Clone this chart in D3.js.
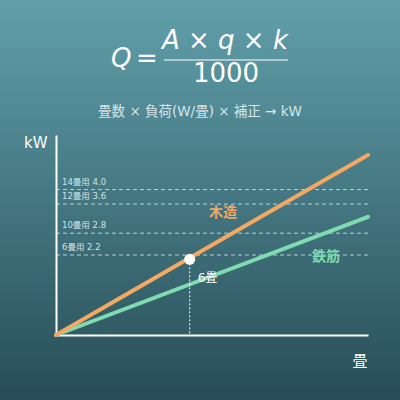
<!DOCTYPE html>
<html>
<head>
<meta charset="utf-8">
<script src="https://cdn.jsdelivr.net/npm/d3@7"></script>
<style>
  html, body { margin: 0; padding: 0; background: #2c5661; }
  svg { display: block; font-family: "DejaVu Sans", "Noto Sans CJK JP", sans-serif; }
</style>
</head>
<body>
<svg width="400" height="400"></svg>
<script>
// 畳数 and kW for each construction type
const tatami = [0, 14];
const woodKw = [0, 4.95];
const steelKw = [0, 3.25];

// reference capacity lines
const refLabels = ["14畳用 4.0", "12畳用 3.6", "10畳用 2.8", "6畳用 2.2"];
const refValues = [4.0, 3.6, 2.8, 2.2];

// highlighted point
const markTatami = 6;
const markKw = 2.08;

const svg = d3.select("svg");
const width = 400, height = 400;

// background gradient
const defs = svg.append("defs");
const grad = defs.append("linearGradient")
  .attr("id", "bg").attr("x1", 0).attr("y1", 0).attr("x2", 0).attr("y2", 1);
grad.append("stop").attr("offset", "0%").attr("stop-color", "#61a0ab");
grad.append("stop").attr("offset", "100%").attr("stop-color", "#274d57");
svg.append("rect").attr("width", width).attr("height", height).attr("fill", "url(#bg)");

// formula
const f = svg.append("g").attr("fill", "#ffffff").attr("font-size", 26);
f.append("text").attr("x", 111).attr("y", 67).attr("font-style", "italic").text("Q");
f.append("text").attr("x", 136).attr("y", 67).text("=");
f.append("text").attr("x", 225).attr("y", 49).attr("text-anchor", "middle")
  .attr("font-style", "italic").text("A × q × k");
f.append("line").attr("x1", 164).attr("x2", 288).attr("y1", 60).attr("y2", 60)
  .attr("stroke", "#ffffff").attr("stroke-width", 1.2);
f.append("text").attr("x", 226).attr("y", 82).attr("text-anchor", "middle").text("1000");

svg.append("text").attr("x", 200).attr("y", 116).attr("text-anchor", "middle")
  .attr("font-size", 13.5).attr("fill", "#d6e6ea")
  .text("畳数 × 負荷(W/畳) × 補正 → kW");

// scales
const x = d3.scaleLinear().domain([0, 14]).range([56, 368]);
const y = d3.scaleLinear().domain([0, 5.5]).range([335, 135]);

// reference dashed lines
const refs = refValues.map((v, i) => ({ v: v, label: refLabels[i] }));
svg.selectAll(".ref").data(refs).enter().append("line")
  .attr("class", "ref")
  .attr("x1", x(0)).attr("x2", x(14))
  .attr("y1", d => y(d.v)).attr("y2", d => y(d.v))
  .attr("stroke", "#d2e8f0").attr("stroke-opacity", 0.8)
  .attr("stroke-width", 1).attr("stroke-dasharray", "4,3");
svg.selectAll(".refLabel").data(refs).enter().append("text")
  .attr("class", "refLabel")
  .attr("x", 62).attr("y", d => y(d.v) - 5)
  .attr("font-size", 8.5).attr("fill", "#d3e2e6")
  .text(d => d.label);

// axes
const xAxis = d3.axisBottom(x).tickValues([]).tickSizeOuter(0);
const yAxis = d3.axisLeft(y).tickValues([]).tickSizeOuter(0);
svg.append("g").attr("transform", "translate(0," + y(0) + ")").call(xAxis)
  .select(".domain").attr("stroke", "#ffffff").attr("stroke-width", 2);
svg.append("g").attr("transform", "translate(" + x(0) + ",0)").call(yAxis)
  .select(".domain").attr("stroke", "#ffffff").attr("stroke-width", 2);

svg.append("text").attr("x", 24).attr("y", 148).attr("font-size", 15)
  .attr("fill", "#ffffff").text("kW");
svg.append("text").attr("x", 360).attr("y", 366).attr("text-anchor", "middle")
  .attr("font-size", 15).attr("fill", "#ffffff").text("畳");

// lines
const line = d3.line().x(d => x(d[0])).y(d => y(d[1]));
svg.append("path").datum(tatami.map((t, i) => [t, steelKw[i]]))
  .attr("d", line).attr("fill", "none")
  .attr("stroke", "#7fdcb0").attr("stroke-width", 4).attr("stroke-linecap", "round");
svg.append("path").datum(tatami.map((t, i) => [t, woodKw[i]]))
  .attr("d", line).attr("fill", "none")
  .attr("stroke", "#f5a861").attr("stroke-width", 4).attr("stroke-linecap", "round");

svg.append("text").attr("x", 223).attr("y", 217).attr("text-anchor", "middle")
  .attr("font-size", 14).attr("font-weight", "bold").attr("fill", "#f5a861").text("木造");
svg.append("text").attr("x", 326).attr("y", 261).attr("text-anchor", "middle")
  .attr("font-size", 14).attr("font-weight", "bold").attr("fill", "#7fdcb0").text("鉄筋");

// 6畳 marker
svg.append("line")
  .attr("x1", x(markTatami)).attr("x2", x(markTatami))
  .attr("y1", y(markKw)).attr("y2", y(0))
  .attr("stroke", "#ffffff").attr("stroke-width", 1).attr("stroke-dasharray", "2,2");
svg.append("circle").attr("cx", x(markTatami)).attr("cy", y(markKw)).attr("r", 5.5)
  .attr("fill", "#ffffff");
svg.append("text").attr("x", x(markTatami) + 8).attr("y", 282)
  .attr("font-size", 12).attr("fill", "#ffffff").text("6畳");
</script>
</body>
</html>
